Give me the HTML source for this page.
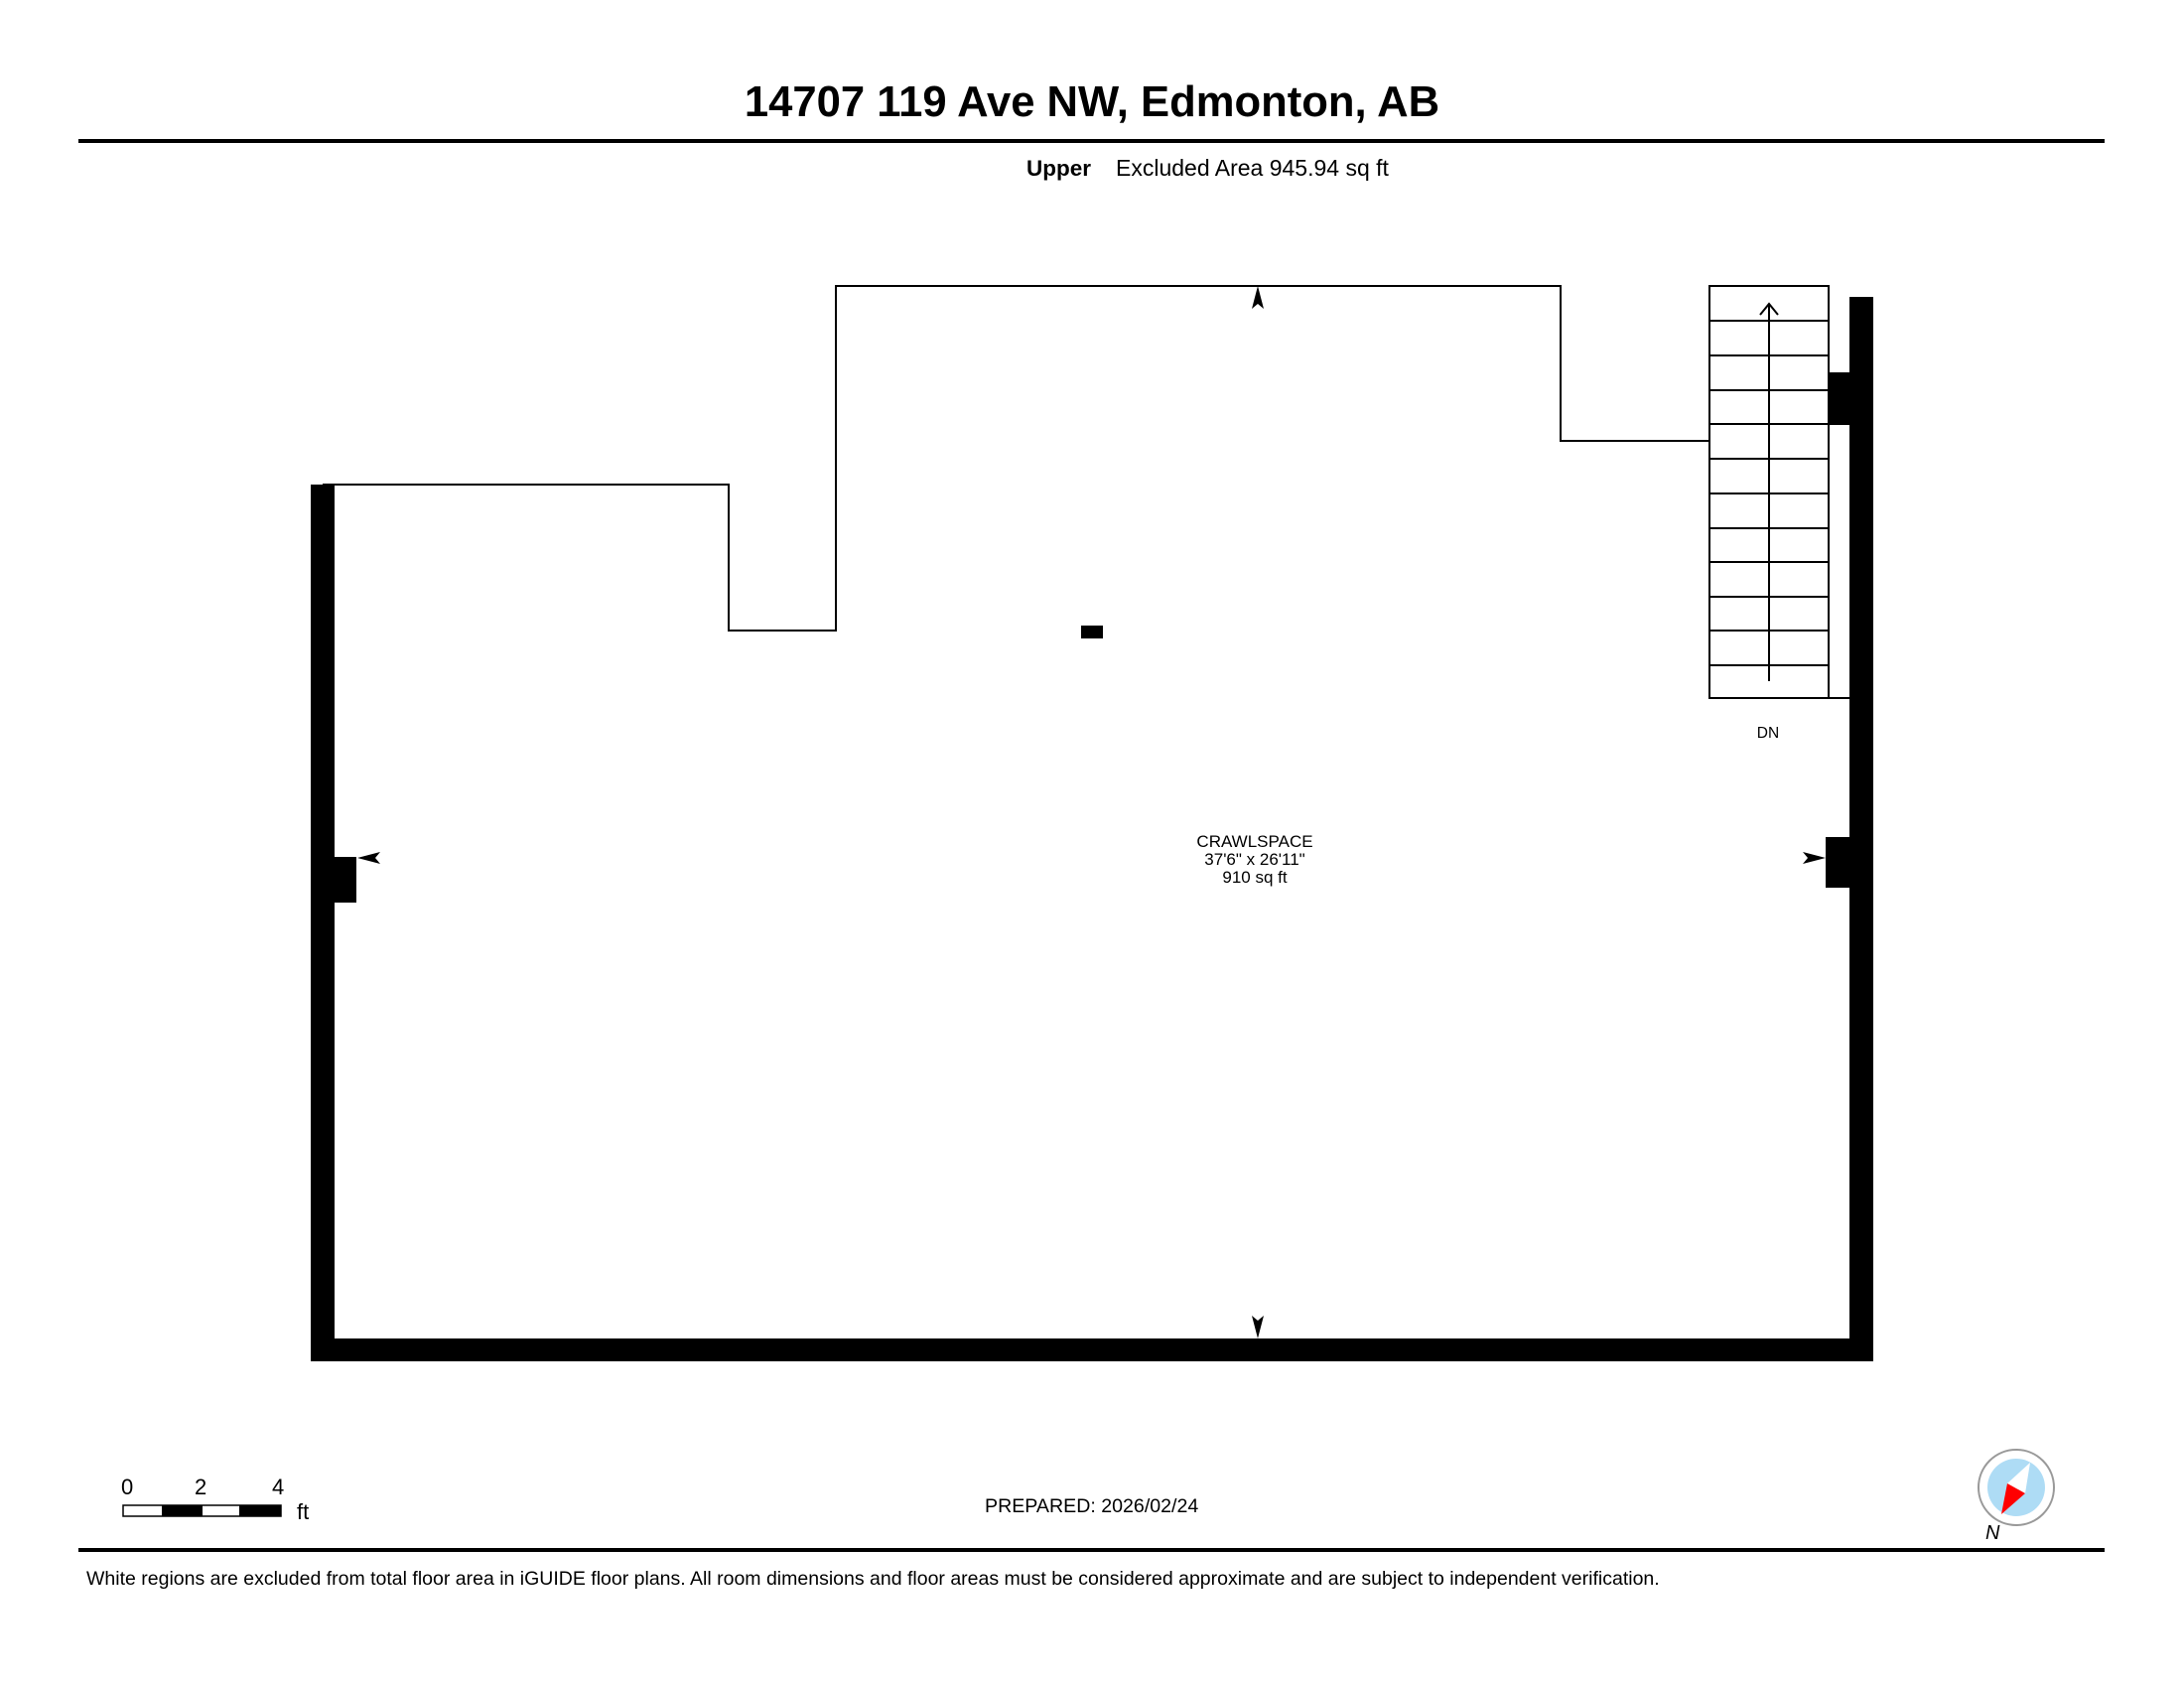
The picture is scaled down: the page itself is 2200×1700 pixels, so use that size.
<!DOCTYPE html>
<html><head><meta charset="utf-8"><style>
html,body{margin:0;padding:0;background:#fff;}
body{width:2200px;height:1700px;position:relative;overflow:hidden;font-family:"Liberation Sans",sans-serif;}
</style></head><body>
<svg width="2200" height="1700" viewBox="0 0 2200 1700" xmlns="http://www.w3.org/2000/svg" style="position:absolute;left:0;top:0">
<text x="1100" y="117" font-size="43.6" font-weight="bold" text-anchor="middle" font-family="Liberation Sans, sans-serif">14707 119 Ave NW, Edmonton, AB</text>
<rect x="79" y="140" width="2041" height="4" fill="#000"/>
<text x="1034" y="177" font-size="22.5" font-weight="bold" font-family="Liberation Sans, sans-serif">Upper</text>
<text x="1124" y="177" font-size="23" font-family="Liberation Sans, sans-serif">Excluded Area 945.94 sq ft</text>

<polyline points="325,488 734,488 734,635 842,635 842,288 1572,288 1572,444 1722,444" fill="none" stroke="#000" stroke-width="2"/>
<rect x="313" y="488" width="24" height="883" fill="#000"/>
<rect x="313" y="1348" width="1574" height="23" fill="#000"/>
<rect x="1863" y="299" width="24" height="1072" fill="#000"/>
<rect x="1842" y="375" width="22" height="53" fill="#000"/>
<rect x="1839" y="843" width="25" height="51" fill="#000"/>
<rect x="337" y="863" width="22" height="46" fill="#000"/>
<rect x="1089" y="630" width="22" height="13" fill="#000"/>

<rect x="1722" y="288" width="120" height="415" fill="none" stroke="#000" stroke-width="2"/>
<g stroke="#000" stroke-width="2">
<line x1="1722" y1="323" x2="1842" y2="323"/><line x1="1722" y1="358" x2="1842" y2="358"/>
<line x1="1722" y1="393" x2="1842" y2="393"/><line x1="1722" y1="427" x2="1842" y2="427"/>
<line x1="1722" y1="462" x2="1842" y2="462"/><line x1="1722" y1="497" x2="1842" y2="497"/>
<line x1="1722" y1="532" x2="1842" y2="532"/><line x1="1722" y1="566" x2="1842" y2="566"/>
<line x1="1722" y1="601" x2="1842" y2="601"/><line x1="1722" y1="635" x2="1842" y2="635"/>
<line x1="1722" y1="670" x2="1842" y2="670"/>
<line x1="1842" y1="703" x2="1864" y2="703"/>
<line x1="1782" y1="306" x2="1782" y2="686"/>
<polyline points="1773,317 1782,306 1791,317" fill="none"/>
</g>
<text x="1781" y="743" font-size="15.5" text-anchor="middle" font-family="Liberation Sans, sans-serif">DN</text>

<g font-size="17" text-anchor="middle" font-family="Liberation Sans, sans-serif">
<text x="1264" y="853">CRAWLSPACE</text>
<text x="1264" y="871">37'6" x 26'11"</text>
<text x="1264" y="889">910 sq ft</text>
</g>

<polygon points="1267,288 1273,311 1267,306 1261,311" fill="#000"/>
<polygon points="1267,1348 1273,1325 1267,1330 1261,1325" fill="#000"/>
<polygon points="360,864 383,858 378,864 383,870" fill="#000"/>
<polygon points="1839,864 1816,858 1821,864 1816,870" fill="#000"/>

<g font-size="22" font-family="Liberation Sans, sans-serif">
<text x="122" y="1505">0</text><text x="196" y="1505">2</text><text x="274" y="1505">4</text>
<text x="299" y="1530">ft</text>
</g>
<rect x="124" y="1516" width="159" height="11" fill="#fff" stroke="#000" stroke-width="1.5"/>
<rect x="163" y="1516" width="41" height="11" fill="#000"/>
<rect x="241" y="1516" width="42" height="11" fill="#000"/>

<text x="992" y="1523" font-size="19.6" font-family="Liberation Sans, sans-serif">PREPARED: 2026/02/24</text>

<circle cx="2031" cy="1498" r="38" fill="#fff" stroke="#999" stroke-width="2"/>
<circle cx="2031" cy="1498" r="29" fill="#aedcf5"/>
<polygon points="2045,1473 2022,1494 2040,1504" fill="#fff"/>
<polygon points="2016,1525 2022,1494 2040,1504" fill="#f00"/>
<text x="2000" y="1550" font-size="20" font-style="italic" font-family="Liberation Sans, sans-serif">N</text>

<rect x="79" y="1559" width="2041" height="4" fill="#000"/>
<text x="87" y="1596" font-size="19.5" font-family="Liberation Sans, sans-serif">White regions are excluded from total floor area in iGUIDE floor plans. All room dimensions and floor areas must be considered approximate and are subject to independent verification.</text>
</svg>
</body></html>
